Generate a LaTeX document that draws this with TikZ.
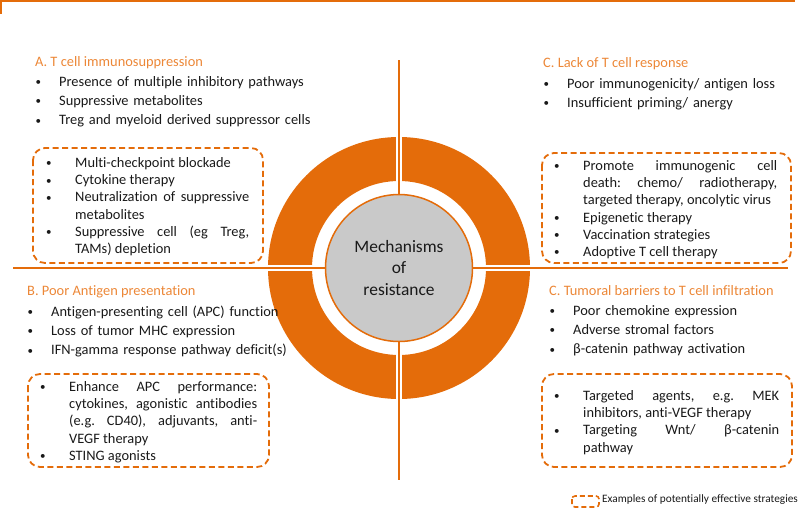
\documentclass[tikz,border=0pt]{standalone}
\usepackage{fontspec}
\setmainfont{Carlito}[Ligatures=NoCommon]
\definecolor{ringor}{RGB}{228,108,10}
\definecolor{titleor}{RGB}{236,135,55}
\definecolor{txt}{RGB}{25,25,25}
\definecolor{mechgray}{RGB}{201,201,201}
\newlength\bind
\newcommand\bmark{\makebox[\bind][l]{\raisebox{0.6pt}{\fontsize{11}{11}\selectfont\textbullet}}}
\newcommand\bfirst{\hangindent=\bind\hangafter=1\bmark}
\newcommand\bitem{\par\noindent\hangindent=\bind\hangafter=1\bmark}
\frenchspacing
\begin{document}
\begin{tikzpicture}[x=1pt,y=-1pt,
  titlestyle/.style={anchor=base west, inner sep=0pt, text=titleor, font=\fontsize{14.4}{17}\selectfont},
  outerlist/.style={anchor=base west, inner sep=0pt, text=txt, text width=#1, align=left, font=\fontsize{14.4}{19.4}\selectfont},
  boxlist/.style={anchor=base west, inner sep=0pt, text=txt, text width=#1, align=justify, font=\fontsize{14.4}{17.2}\selectfont},
  stratbox/.style={draw=ringor, line width=1.8pt, dash pattern=on 6pt off 3.5pt, rounded corners=12pt},
  divider/.style={draw=ringor, line width=1.5pt}]
\useasboundingbox (0,0) rectangle (800,509);

% frame remnants
\draw[divider] (0,0.75) -- (795,0.75);
\draw[divider] (1,0) -- (1,14);

\coordinate (c) at (399,268);

% ring
\fill[ringor, even odd rule] (c) circle[radius=131pt] (c) circle[radius=87pt];
\draw[white, line width=5.5pt] (263,268) -- (535,268);
\draw[white, line width=5.5pt] (399,132) -- (399,404);

% divider lines
\coordinate (hl) at (13,268);
\coordinate (hr) at (788,268);
\coordinate (vt) at (399,60);
\coordinate (vb) at (399,480);
\draw[divider] (hl) -- (hr);
\draw[divider] (vt) -- (vb);

% centre
\node[circle, fill=mechgray, draw=ringor, line width=1.5pt, minimum size=147pt, inner sep=0pt,
      align=center, text=txt, font=\fontsize{17.4}{21.5}\selectfont] (mech) at (c) {Mechanisms\\of\\resistance};

% A
\node[titlestyle] (tA) at (35,66.5) {A. T cell immunosuppression};
\node[outerlist=300pt] (lA) at (35.5,86) {\setlength\bind{23.5pt}%
\bfirst Presence of multiple inhibitory pathways
\bitem Suppressive metabolites
\bitem Treg and myeloid derived suppressor cells\par};
\draw[stratbox] (33,148) rectangle (263,263);
\node[boxlist=203pt] (bA) at (46,167.5) {\setlength\bind{29pt}%
\bfirst Multi-checkpoint blockade
\bitem Cytokine therapy
\bitem Neutralization of suppressive\linebreak metabolites
\bitem Suppressive cell (eg Treg,\linebreak TAMs) depletion\par};

% C top right
\node[titlestyle] (tC) at (543,67.5) {C. Lack of T cell response};
\node[outerlist=250pt] (lC) at (543.5,88) {\setlength\bind{23.5pt}%
\bfirst Poor immunogenicity/ antigen loss
\bitem Insufficient priming/ anergy\par};
\draw[stratbox] (542,153) rectangle (791,263);
\node[boxlist=223pt] (bC) at (554,170.5) {\setlength\bind{29pt}%
\bfirst Promote immunogenic cell\linebreak death: chemo/ radiotherapy,\linebreak targeted therapy, oncolytic virus
\bitem Epigenetic therapy
\bitem Vaccination strategies
\bitem Adoptive T cell therapy\par};

% B
\node[titlestyle] (tB) at (27,295.5) {B. Poor Antigen presentation};
\node[outerlist=300pt] (lB) at (27.5,316) {\setlength\bind{23.5pt}%
\bfirst Antigen-presenting cell (APC) function
\bitem Loss of tumor MHC expression
\bitem IFN-gamma response pathway deficit(s)\par};
\draw[stratbox] (28,374) rectangle (269,467);
\node[boxlist=217pt] (bB) at (40,391.5) {\setlength\bind{29pt}%
\bfirst Enhance APC performance:\linebreak cytokines, agonistic antibodies\linebreak (e.g. CD40), adjuvants, anti-\linebreak VEGF therapy
\bitem STING agonists\par};

% D
\node[titlestyle] (tD) at (549,295.5) {C. Tumoral barriers to T cell infiltration};
\node[outerlist=250pt] (lD) at (549.5,315) {\setlength\bind{23.5pt}%
\bfirst Poor chemokine expression
\bitem Adverse stromal factors
\bitem β-catenin pathway activation\par};
\draw[stratbox] (542,374) rectangle (792,467);
\node[boxlist=225pt] (bD) at (554,400.5) {\setlength\bind{29pt}%
\bfirst Targeted agents, e.g. MEK\linebreak inhibitors, anti-VEGF therapy
\bitem Targeting Wnt/ β-catenin\linebreak pathway\par};

% legend
\draw[stratbox, rounded corners=3pt, line width=1.6pt, dash pattern=on 5pt off 3pt] (572,496) rectangle (599,507);
\node[anchor=west, inner sep=0pt, text=txt, font=\fontsize{11.3}{13}\selectfont] (leg) at (602,500) {Examples of potentially effective strategies};
\end{tikzpicture}
\end{document}
